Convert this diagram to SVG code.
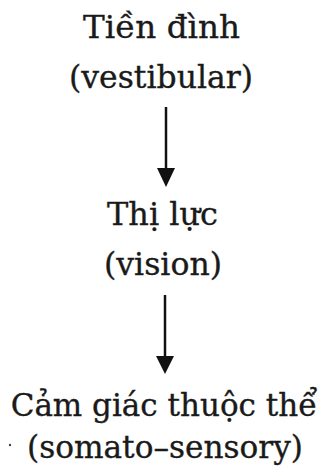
<svg xmlns="http://www.w3.org/2000/svg" width="322" height="472" viewBox="0 0 322 472">
<style>
  text { font-family: "DejaVu Serif", "Liberation Serif", serif; font-size: 32px; fill: #1a1a1a; stroke: #1a1a1a; stroke-width: 0.35; text-anchor: middle; }
  .s31 { font-size: 31px; }
</style>
<rect width="322" height="472" fill="#fff"/>
<g id="node-vestibular">
  <text x="161.5" y="37.5" textLength="157" lengthAdjust="spacingAndGlyphs">Tiền đình</text>
  <text x="161" y="87.5" textLength="184" lengthAdjust="spacingAndGlyphs">(vestibular)</text>
</g>
<g id="node-vision">
  <text x="162.5" y="225" textLength="111" lengthAdjust="spacingAndGlyphs">Thị lực</text>
  <text x="163" y="275" textLength="118" lengthAdjust="spacingAndGlyphs">(vision)</text>
</g>
<g id="node-somato">
  <text class="s31" x="164" y="416">Cảm giác thuộc thể</text>
  <text x="165" y="458" textLength="276" lengthAdjust="spacingAndGlyphs">(somato–sensory)</text>
  <circle cx="10" cy="445" r="1.2" fill="#444"/>
</g>
<g id="connectors">
  <line x1="166" y1="107" x2="166" y2="170" stroke="#111" stroke-width="2.5"/>
  <path d="M157,168 L175,168 L166,187 z" fill="#111"/>
  <line x1="165" y1="295" x2="165" y2="359" stroke="#111" stroke-width="2.5"/>
  <path d="M156,356 L174,356 L165,374 z" fill="#111"/>
</g>
</svg>
